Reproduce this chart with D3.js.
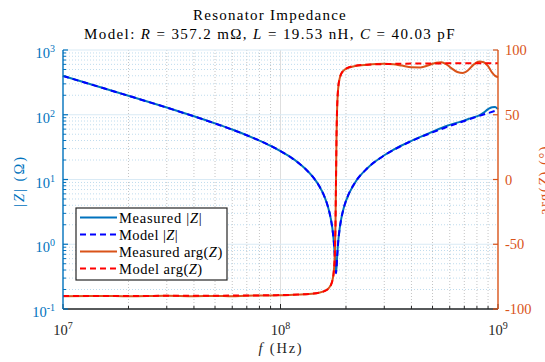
<!DOCTYPE html>
<html><head><meta charset="utf-8">
<script src="https://cdn.jsdelivr.net/npm/d3@7"></script>
<style>
body{margin:0;background:#fff}
svg{display:block}
text{font-family:"Liberation Serif","Times New Roman",serif}
</style>
</head><body><svg id="c" width="545" height="362"></svg>
<script>
// ---------------- data ----------------
const modelFreq = [1e7,1.5e7,2e7,3e7,4e7,5e7,6e7,7e7,8e7,9e7,1e8,1.1e8,1.2e8,1.3e8,1.4e8,1.5e8,1.6e8,1.65e8,1.7e8,1.73e8,1.76e8,1.78e8,1.79e8,1.8e8,1.81e8,1.82e8,1.84e8,1.87e8,1.9e8,1.95e8,2e8,2.2e8,2.5e8,3e8,3.5e8,4e8,5e8,6e8,7e8,8e8,9e8,1e9];
const modelMag = [396.4,263.2,196.3,128.9,94.49,73.38,58.90,48.21,39.88,33.13,27.49,22.65,18.41,14.63,11.23,8.108,5.232,3.866,2.552,1.789,1.055,0.610,0.434,0.357,0.433,0.604,1.035,1.722,2.416,3.557,4.676,8.931,14.78,23.56,31.59,39.14,53.40,67.00,80.22,93.20,106.0,118.7];
const modelPhase = [-89.95,-89.92,-89.90,-89.84,-89.78,-89.72,-89.65,-89.58,-89.49,-89.38,-89.26,-89.10,-88.89,-88.60,-88.18,-87.47,-86.08,-84.70,-81.95,-78.48,-70.21,-54.13,-34.67,0,34.45,53.74,69.80,78.03,81.50,84.24,85.62,87.71,88.62,89.13,89.35,89.48,89.62,89.69,89.74,89.78,89.81,89.83];

const measFreq = [1e7,1.5e7,2e7,3e7,4e7,5e7,6e7,7e7,8e7,9e7,1e8,1.1e8,1.2e8,1.3e8,1.4e8,1.5e8,1.6e8,1.65e8,1.7e8,1.73e8,1.76e8,1.78e8,1.79e8,1.8e8,1.81e8,1.82e8,1.84e8,1.87e8,1.9e8,1.95e8,2e8,2.2e8,2.5e8,3e8,3.3e8,3.6e8,4e8,4.4e8,4.8e8,5.2e8,5.5e8,5.8e8,6.1e8,6.5e8,6.9e8,7.3e8,7.7e8,8.2e8,8.6e8,9e8,9.4e8,9.7e8,1e9];
const measMag = [398,264,197,129.5,94.8,73.6,59.1,48.3,39.9,33.2,27.5,22.7,18.45,14.65,11.25,8.12,5.24,3.87,2.56,1.80,1.06,0.62,0.445,0.37,0.44,0.61,1.04,1.73,2.42,3.56,4.68,8.94,14.8,23.7,28.6,33.5,39.6,45.5,51.5,57.8,62.5,67,71,75.5,80,86,91,98,108,122,131,132,122];
const measPhase = [-90.1,-89.9,-90.2,-89.8,-90.1,-89.9,-90.2,-89.7,-89.6,-89.5,-89.4,-89.2,-88.9,-88.7,-88.2,-87.4,-86.0,-84.6,-81.8,-78.3,-70.0,-54.0,-34.5,0.5,34.5,53.5,69.6,77.9,81.4,84.1,85.5,87.6,88.6,89.3,89.0,88.0,86.6,86.5,88.2,90.2,90.6,88.8,86,83,82.2,84.5,88.5,91.2,90.5,87.5,82.5,80,79];

const xTickExp = [7,8,9];
const yLeftTickExp = [-1,0,1,2,3];
const yRightTicks = [-100,-50,0,50,100];
const legendLabels = [
  ["Measured ", "|", "Z", "|"],
  ["Model ", "|", "Z", "|"],
  ["Measured arg(", "", "Z", ")"],
  ["Model arg(", "", "Z", ")"]
];

// ---------------- styles ----------------
const C_BLUE = "#0072BD", C_MBLUE = "#0000FF", C_ORANGE = "#D95319", C_RED = "#FF0000";
const FS = 14.5;

const svg = d3.select("#c");
const L = 63, R = 498, T = 50, B = 309;
const x = d3.scaleLog().domain([1e7, 1e9]).range([L, R]);
const yL = d3.scaleLog().domain([0.1, 1000]).range([B, T]);
const yR = d3.scaleLinear().domain([-100, 100]).range([B, T]);

// spread a text to a target width via letter-spacing (emulates wider TeX font)
function fit(sel, target) {
  const n = sel.node();
  const len = n.getComputedTextLength();
  const chars = n.textContent.length;
  if (chars > 1 && len > 0) sel.attr("letter-spacing", ((target - len) / chars).toFixed(2));
  return sel;
}

const minorOf = (e0, e1) => { const a = []; for (let e = e0; e < e1; e++) for (let k = 2; k <= 9; k++) a.push(k * Math.pow(10, e)); return a; };
const xMinor = minorOf(7, 9);
const yMinor = minorOf(-1, 3);

// grid
const g = svg.append("g");
g.selectAll(".xmg").data(xMinor).join("line")
  .attr("x1", d => x(d)).attr("x2", d => x(d)).attr("y1", T).attr("y2", B)
  .attr("stroke", "#c4c4c4").attr("stroke-width", 1).attr("stroke-dasharray", "1,2");
g.selectAll(".ymg").data(yMinor).join("line")
  .attr("x1", L).attr("x2", R).attr("y1", d => yL(d)).attr("y2", d => yL(d))
  .attr("stroke", "#bfdcee").attr("stroke-width", 1).attr("stroke-dasharray", "1,2");
g.selectAll(".xMg").data([1e8]).join("line")
  .attr("x1", d => x(d)).attr("x2", d => x(d)).attr("y1", T).attr("y2", B)
  .attr("stroke", "#dedede").attr("stroke-width", 1);
g.selectAll(".yMg").data(yLeftTickExp.map(e => Math.pow(10, e))).join("line")
  .attr("x1", L).attr("x2", R).attr("y1", d => yL(d)).attr("y2", d => yL(d))
  .attr("stroke", "#d9eaf5").attr("stroke-width", 1);

// lines
const lineL = (fr) => d3.line().x((d, i) => x(fr[i])).y(d => yL(d)).curve(d3.curveMonotoneX);
const lineR = (fr) => d3.line().x((d, i) => x(fr[i])).y(d => yR(d)).curve(d3.curveMonotoneX);
const plot = svg.append("g");
plot.append("path").attr("d", lineL(measFreq)(measMag)).attr("fill", "none")
  .attr("stroke", C_BLUE).attr("stroke-width", 2);
plot.append("path").attr("d", lineL(modelFreq)(modelMag)).attr("fill", "none")
  .attr("stroke", C_MBLUE).attr("stroke-width", 2).attr("stroke-dasharray", "6,4");
plot.append("path").attr("d", lineR(measFreq)(measPhase)).attr("fill", "none")
  .attr("stroke", C_ORANGE).attr("stroke-width", 2);
plot.append("path").attr("d", lineR(modelFreq)(modelPhase)).attr("fill", "none")
  .attr("stroke", C_RED).attr("stroke-width", 2).attr("stroke-dasharray", "6,4");

// axes lines & ticks
const ax = svg.append("g");
const MAJ = 5, MIN = 3;
ax.selectAll(".bt").data(xMinor).join("line")
  .attr("x1", d => x(d)).attr("x2", d => x(d)).attr("y1", B).attr("y2", B - MIN)
  .attr("stroke", "#262626").attr("stroke-width", 1);
ax.selectAll(".bT").data(xTickExp.map(e => Math.pow(10, e))).join("line")
  .attr("x1", d => x(d)).attr("x2", d => x(d)).attr("y1", B).attr("y2", B - MAJ)
  .attr("stroke", "#262626").attr("stroke-width", 1);
ax.append("line").attr("x1", L).attr("x2", R).attr("y1", B).attr("y2", B)
  .attr("stroke", "#262626").attr("stroke-width", 1.4);
ax.selectAll(".lt").data(yMinor).join("line")
  .attr("x1", L).attr("x2", L + MIN).attr("y1", d => yL(d)).attr("y2", d => yL(d))
  .attr("stroke", C_BLUE).attr("stroke-width", 1);
ax.selectAll(".lT").data(yLeftTickExp.map(e => Math.pow(10, e))).join("line")
  .attr("x1", L).attr("x2", L + MAJ).attr("y1", d => yL(d)).attr("y2", d => yL(d))
  .attr("stroke", C_BLUE).attr("stroke-width", 1.2);
ax.append("line").attr("x1", L).attr("x2", L).attr("y1", T).attr("y2", B)
  .attr("stroke", C_BLUE).attr("stroke-width", 1.4);
ax.selectAll(".rT").data(yRightTicks).join("line")
  .attr("x1", R).attr("x2", R - MAJ).attr("y1", d => yR(d)).attr("y2", d => yR(d))
  .attr("stroke", C_ORANGE).attr("stroke-width", 1.2);
ax.append("line").attr("x1", R).attr("x2", R).attr("y1", T).attr("y2", B)
  .attr("stroke", C_ORANGE).attr("stroke-width", 1.4);

// tick labels
const pow10Label = (sel) => {
  sel.append("tspan").text("10");
  sel.append("tspan").attr("font-size", 10).attr("dy", -6).text(d => d);
};
svg.append("g").selectAll("text").data(xTickExp).join("text")
  .attr("x", d => x(Math.pow(10, d))).attr("y", B + 26)
  .attr("text-anchor", "middle").attr("font-size", FS).attr("fill", "#262626")
  .call(pow10Label);
svg.append("g").selectAll("text").data(yLeftTickExp).join("text")
  .attr("x", L - 8).attr("y", d => yL(Math.pow(10, d)) + 8)
  .attr("text-anchor", "end").attr("font-size", FS).attr("fill", C_BLUE)
  .call(pow10Label);
svg.append("g").selectAll("text").data(yRightTicks).join("text")
  .attr("x", R + 7).attr("y", d => yR(d) + 5)
  .attr("text-anchor", "start").attr("font-size", FS).attr("fill", C_ORANGE)
  .text(d => d);

// axis labels
const xl = svg.append("text").attr("x", 281).attr("y", 353).attr("text-anchor", "middle")
  .attr("font-size", FS).attr("fill", "#262626");
xl.append("tspan").attr("font-style", "italic").text("f");
xl.append("tspan").text(" (Hz)");
fit(xl, 45);

const yll = svg.append("text").attr("transform", "translate(24,181) rotate(-90)")
  .attr("text-anchor", "middle").attr("font-size", FS).attr("fill", C_BLUE);
yll.append("tspan").text("|");
yll.append("tspan").attr("font-style", "italic").text("Z");
yll.append("tspan").text("| (Ω)");
fit(yll, 52);

const yrl = svg.append("text").attr("transform", "translate(549,180) rotate(-90)")
  .attr("text-anchor", "middle").attr("font-size", FS).attr("fill", C_ORANGE);
yrl.append("tspan").text("arg(");
yrl.append("tspan").attr("font-style", "italic").text("Z");
yrl.append("tspan").text(") (°)");
fit(yrl, 70);

// title
const t1 = svg.append("text").attr("x", 270).attr("y", 20).attr("text-anchor", "middle")
  .attr("font-size", 15).attr("fill", "#000").text("Resonator Impedance");
fit(t1, 154);
const t2 = svg.append("text").attr("x", 270).attr("y", 39).attr("text-anchor", "middle")
  .attr("font-size", 15).attr("fill", "#000");
[["Model: ", false], ["R", true], [" = 357.2 mΩ, ", false], ["L", true], [" = 19.53 nH, ", false], ["C", true], [" = 40.03 pF", false]]
  .forEach(([s, it]) => t2.append("tspan").attr("font-style", it ? "italic" : "normal").text(s));
fit(t2, 372);

// legend
const lg = svg.append("g");
const lx = 76, ly = 208, lw = 151, lh = 72;
lg.append("rect").attr("x", lx).attr("y", ly).attr("width", lw).attr("height", lh)
  .attr("fill", "#fff").attr("stroke", "#262626").attr("stroke-width", 1.2);
const lstyles = [[C_BLUE, null], [C_MBLUE, "6,4"], [C_ORANGE, null], [C_RED, "6,4"]];
const legendWidths = [83.4, 59, 103.7, 83.7];
legendLabels.forEach((lab, i) => {
  const cy = ly + 9.5 + i * 17;
  lg.append("line").attr("x1", lx + 4).attr("x2", lx + 41).attr("y1", cy).attr("y2", cy)
    .attr("stroke", lstyles[i][0]).attr("stroke-width", 2)
    .attr("stroke-dasharray", lstyles[i][1]);
  const t = lg.append("text").attr("x", lx + 43).attr("y", cy + 5).attr("font-size", FS).attr("fill", "#000");
  t.append("tspan").text(lab[0] + lab[1]);
  t.append("tspan").attr("font-style", "italic").text(lab[2]);
  t.append("tspan").text(lab[3]);
  fit(t, legendWidths[i]);
});
</script>
</body></html>
